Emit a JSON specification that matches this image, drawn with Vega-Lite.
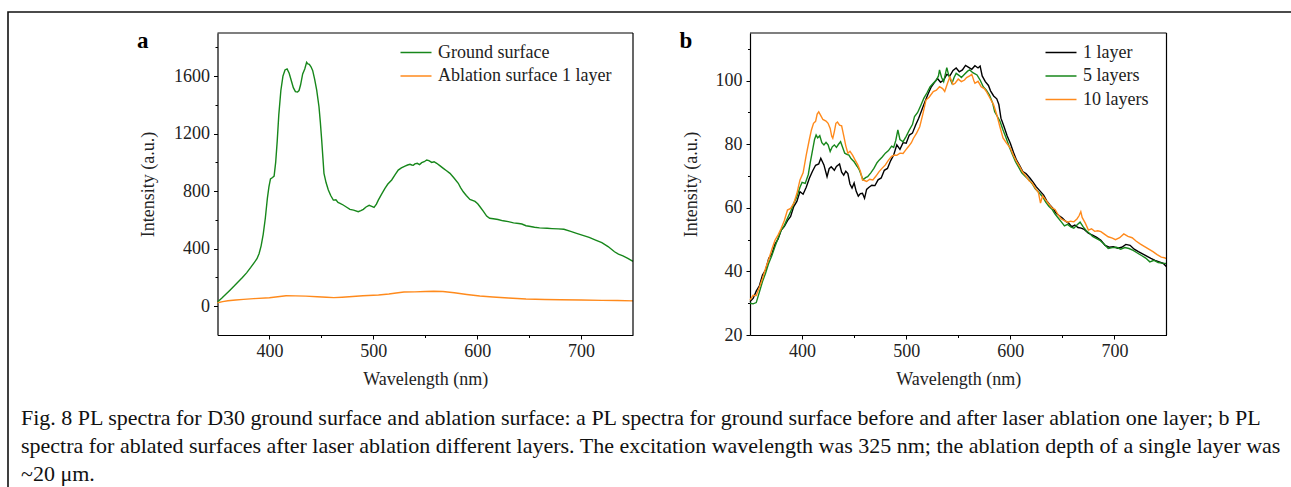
{
  "$schema": "https://vega.github.io/schema/vega-lite/v6.json",
  "width": 1284,
  "height": 476,
  "autosize": {"type": "none"},
  "padding": {"left": 8, "top": 12, "right": -1, "bottom": -1},
  "background": "white",
  "config": {
    "view": {"stroke": "#111111", "strokeWidth": 1.6},
    "font": "Liberation Serif",
    "axis": {
      "grid": false,
      "domainColor": "#000000",
      "domainWidth": 1.2,
      "tickColor": "#000000",
      "tickWidth": 1,
      "labelFont": "Liberation Serif",
      "labelFontSize": 18,
      "labelColor": "#222222",
      "titleFont": "Liberation Serif",
      "titleFontSize": 18,
      "titleFontWeight": "normal",
      "titleColor": "#222222",
      "labelOverlap": false
    },
    "legend": {
      "labelFont": "Liberation Serif",
      "labelFontSize": 18,
      "labelColor": "#222222",
      "labelLimit": 0
    }
  },
  "title": {
    "text": [
      "Fig. 8 PL spectra for D30 ground surface and ablation surface: a PL spectra for ground surface before and after laser ablation one layer; b PL",
      "spectra for ablated surfaces after laser ablation different layers. The excitation wavelength was 325 nm; the ablation depth of a single layer was",
      "~20 μm."
    ],
    "orient": "bottom",
    "anchor": "start",
    "frame": "group",
    "offset": -63,
    "dx": 13,
    "font": "Liberation Serif",
    "fontSize": 22,
    "fontWeight": "normal",
    "color": "#111111",
    "lineHeight": 28,
    "baseline": "alphabetic"
  },
  "datasets": {
    "a": [
      {"s":"Ground surface","wl":350,"v":30},{"s":"Ground surface","wl":354,"v":55},{"s":"Ground surface","wl":358,"v":83},{"s":"Ground surface","wl":362,"v":112},{"s":"Ground surface","wl":366,"v":140},{"s":"Ground surface","wl":370,"v":170},{"s":"Ground surface","wl":374,"v":200},{"s":"Ground surface","wl":378,"v":232},{"s":"Ground surface","wl":382,"v":270},{"s":"Ground surface","wl":385,"v":300},{"s":"Ground surface","wl":388,"v":330},{"s":"Ground surface","wl":390,"v":365},{"s":"Ground surface","wl":392,"v":420},{"s":"Ground surface","wl":394,"v":500},{"s":"Ground surface","wl":396,"v":610},{"s":"Ground surface","wl":398,"v":750},{"s":"Ground surface","wl":399.5,"v":830},{"s":"Ground surface","wl":401,"v":885},{"s":"Ground surface","wl":403,"v":895},{"s":"Ground surface","wl":404.5,"v":905},{"s":"Ground surface","wl":406,"v":1000},{"s":"Ground surface","wl":407.5,"v":1150},{"s":"Ground surface","wl":409,"v":1330},{"s":"Ground surface","wl":411,"v":1500},{"s":"Ground surface","wl":413,"v":1600},{"s":"Ground surface","wl":415,"v":1643},{"s":"Ground surface","wl":417,"v":1650},{"s":"Ground surface","wl":419,"v":1620},{"s":"Ground surface","wl":421,"v":1570},{"s":"Ground surface","wl":423,"v":1520},{"s":"Ground surface","wl":425,"v":1492},{"s":"Ground surface","wl":427,"v":1490},{"s":"Ground surface","wl":428.5,"v":1500},{"s":"Ground surface","wl":430,"v":1540},{"s":"Ground surface","wl":432,"v":1615},{"s":"Ground surface","wl":434,"v":1650},{"s":"Ground surface","wl":435.8,"v":1696},{"s":"Ground surface","wl":437,"v":1685},{"s":"Ground surface","wl":438.4,"v":1682},{"s":"Ground surface","wl":440,"v":1665},{"s":"Ground surface","wl":441.6,"v":1640},{"s":"Ground surface","wl":443.5,"v":1580},{"s":"Ground surface","wl":445.5,"v":1503},{"s":"Ground surface","wl":447.7,"v":1387},{"s":"Ground surface","wl":449,"v":1280},{"s":"Ground surface","wl":450.3,"v":1156},{"s":"Ground surface","wl":451.5,"v":1030},{"s":"Ground surface","wl":452.5,"v":924},{"s":"Ground surface","wl":454.5,"v":860},{"s":"Ground surface","wl":456.7,"v":808},{"s":"Ground surface","wl":459,"v":770},{"s":"Ground surface","wl":461.5,"v":738},{"s":"Ground surface","wl":464,"v":740},{"s":"Ground surface","wl":466,"v":722},{"s":"Ground surface","wl":468,"v":716},{"s":"Ground surface","wl":471,"v":704},{"s":"Ground surface","wl":474,"v":690},{"s":"Ground surface","wl":477.5,"v":674},{"s":"Ground surface","wl":481,"v":668},{"s":"Ground surface","wl":485.5,"v":657},{"s":"Ground surface","wl":488,"v":665},{"s":"Ground surface","wl":490.4,"v":674},{"s":"Ground surface","wl":493,"v":690},{"s":"Ground surface","wl":496,"v":702},{"s":"Ground surface","wl":498.5,"v":695},{"s":"Ground surface","wl":500.7,"v":688},{"s":"Ground surface","wl":503,"v":710},{"s":"Ground surface","wl":504.8,"v":738},{"s":"Ground surface","wl":508,"v":780},{"s":"Ground surface","wl":511.2,"v":820},{"s":"Ground surface","wl":514,"v":850},{"s":"Ground surface","wl":517.7,"v":878},{"s":"Ground surface","wl":521,"v":915},{"s":"Ground surface","wl":524,"v":947},{"s":"Ground surface","wl":527,"v":962},{"s":"Ground surface","wl":530.5,"v":975},{"s":"Ground surface","wl":533,"v":982},{"s":"Ground surface","wl":535.3,"v":987},{"s":"Ground surface","wl":537,"v":982},{"s":"Ground surface","wl":538.5,"v":980},{"s":"Ground surface","wl":540,"v":990},{"s":"Ground surface","wl":542.3,"v":994},{"s":"Ground surface","wl":544.5,"v":985},{"s":"Ground surface","wl":546.6,"v":998},{"s":"Ground surface","wl":549,"v":1005},{"s":"Ground surface","wl":551.4,"v":1017},{"s":"Ground surface","wl":553.5,"v":1012},{"s":"Ground surface","wl":556.2,"v":1000},{"s":"Ground surface","wl":558.5,"v":1005},{"s":"Ground surface","wl":561,"v":994},{"s":"Ground surface","wl":564,"v":978},{"s":"Ground surface","wl":567.4,"v":959},{"s":"Ground surface","wl":570.5,"v":942},{"s":"Ground surface","wl":573.8,"v":924},{"s":"Ground surface","wl":577.5,"v":893},{"s":"Ground surface","wl":581.8,"v":855},{"s":"Ground surface","wl":584,"v":825},{"s":"Ground surface","wl":586.6,"v":796},{"s":"Ground surface","wl":589.5,"v":770},{"s":"Ground surface","wl":593,"v":743},{"s":"Ground surface","wl":597.9,"v":729},{"s":"Ground surface","wl":600.5,"v":712},{"s":"Ground surface","wl":602.7,"v":692},{"s":"Ground surface","wl":606,"v":660},{"s":"Ground surface","wl":609.1,"v":627},{"s":"Ground surface","wl":612,"v":612},{"s":"Ground surface","wl":615.5,"v":608},{"s":"Ground surface","wl":620,"v":603},{"s":"Ground surface","wl":625,"v":594},{"s":"Ground surface","wl":630,"v":588},{"s":"Ground surface","wl":635,"v":580},{"s":"Ground surface","wl":640,"v":575},{"s":"Ground surface","wl":643,"v":572},{"s":"Ground surface","wl":647,"v":560},{"s":"Ground surface","wl":650,"v":556},{"s":"Ground surface","wl":655.2,"v":549},{"s":"Ground surface","wl":660,"v":545},{"s":"Ground surface","wl":667.3,"v":542},{"s":"Ground surface","wl":672,"v":540},{"s":"Ground surface","wl":678,"v":538},{"s":"Ground surface","wl":683.5,"v":535},{"s":"Ground surface","wl":690,"v":520},{"s":"Ground surface","wl":695.7,"v":507},{"s":"Ground surface","wl":701,"v":495},{"s":"Ground surface","wl":707.8,"v":479},{"s":"Ground surface","wl":714,"v":460},{"s":"Ground surface","wl":720,"v":442},{"s":"Ground surface","wl":726,"v":415},{"s":"Ground surface","wl":732.2,"v":379},{"s":"Ground surface","wl":736,"v":362},{"s":"Ground surface","wl":740.3,"v":350},{"s":"Ground surface","wl":745,"v":333},{"s":"Ground surface","wl":750,"v":312},
      {"s":"Ablation surface 1 layer","wl":350,"v":24},{"s":"Ablation surface 1 layer","wl":355,"v":32},{"s":"Ablation surface 1 layer","wl":360,"v":38},{"s":"Ablation surface 1 layer","wl":367.5,"v":43},{"s":"Ablation surface 1 layer","wl":375,"v":48},{"s":"Ablation surface 1 layer","wl":385,"v":53},{"s":"Ablation surface 1 layer","wl":400,"v":59},{"s":"Ablation surface 1 layer","wl":408,"v":66},{"s":"Ablation surface 1 layer","wl":416,"v":73},{"s":"Ablation surface 1 layer","wl":425,"v":72},{"s":"Ablation surface 1 layer","wl":435,"v":70},{"s":"Ablation surface 1 layer","wl":446,"v":66},{"s":"Ablation surface 1 layer","wl":455,"v":62},{"s":"Ablation surface 1 layer","wl":462,"v":60},{"s":"Ablation surface 1 layer","wl":470,"v":63},{"s":"Ablation surface 1 layer","wl":480,"v":68},{"s":"Ablation surface 1 layer","wl":490,"v":73},{"s":"Ablation surface 1 layer","wl":505,"v":78},{"s":"Ablation surface 1 layer","wl":515,"v":85},{"s":"Ablation surface 1 layer","wl":522,"v":92},{"s":"Ablation surface 1 layer","wl":529.5,"v":99},{"s":"Ablation surface 1 layer","wl":540,"v":100},{"s":"Ablation surface 1 layer","wl":550,"v":102},{"s":"Ablation surface 1 layer","wl":558,"v":104},{"s":"Ablation surface 1 layer","wl":567,"v":102},{"s":"Ablation surface 1 layer","wl":578,"v":94},{"s":"Ablation surface 1 layer","wl":590,"v":82},{"s":"Ablation surface 1 layer","wl":602.5,"v":71},{"s":"Ablation surface 1 layer","wl":615,"v":64},{"s":"Ablation surface 1 layer","wl":630,"v":57},{"s":"Ablation surface 1 layer","wl":647,"v":50},{"s":"Ablation surface 1 layer","wl":665,"v":47},{"s":"Ablation surface 1 layer","wl":680,"v":45},{"s":"Ablation surface 1 layer","wl":700,"v":43},{"s":"Ablation surface 1 layer","wl":720,"v":41},{"s":"Ablation surface 1 layer","wl":735,"v":40},{"s":"Ablation surface 1 layer","wl":750,"v":37}
    ],
    "b": [
      {"s":"1 layer","wl":350,"v":30.5},{"s":"1 layer","wl":353,"v":31.5},{"s":"1 layer","wl":356,"v":33.8},{"s":"1 layer","wl":359,"v":35.5},{"s":"1 layer","wl":362,"v":38.9},{"s":"1 layer","wl":365,"v":40.5},{"s":"1 layer","wl":368,"v":44.1},{"s":"1 layer","wl":371,"v":45.5},{"s":"1 layer","wl":374,"v":48.6},{"s":"1 layer","wl":377,"v":50.2},{"s":"1 layer","wl":380,"v":53},{"s":"1 layer","wl":383,"v":54.2},{"s":"1 layer","wl":386,"v":56},{"s":"1 layer","wl":389,"v":57.3},{"s":"1 layer","wl":392,"v":60.4},{"s":"1 layer","wl":395,"v":62},{"s":"1 layer","wl":398,"v":65.1},{"s":"1 layer","wl":401,"v":64.3},{"s":"1 layer","wl":404,"v":66.5},{"s":"1 layer","wl":407,"v":69.3},{"s":"1 layer","wl":410,"v":71.5},{"s":"1 layer","wl":413,"v":73.4},{"s":"1 layer","wl":416,"v":73.8},{"s":"1 layer","wl":418,"v":75.6},{"s":"1 layer","wl":421,"v":73.5},{"s":"1 layer","wl":424,"v":69.8},{"s":"1 layer","wl":426,"v":72.3},{"s":"1 layer","wl":428,"v":72.9},{"s":"1 layer","wl":431,"v":71.8},{"s":"1 layer","wl":433,"v":73},{"s":"1 layer","wl":436,"v":73.8},{"s":"1 layer","wl":438,"v":71.2},{"s":"1 layer","wl":440,"v":70.3},{"s":"1 layer","wl":442,"v":71.5},{"s":"1 layer","wl":444,"v":70.8},{"s":"1 layer","wl":446,"v":67.5},{"s":"1 layer","wl":448,"v":66.2},{"s":"1 layer","wl":450,"v":67.8},{"s":"1 layer","wl":452,"v":65.2},{"s":"1 layer","wl":454,"v":63.7},{"s":"1 layer","wl":456,"v":64.5},{"s":"1 layer","wl":458,"v":64.6},{"s":"1 layer","wl":460,"v":63},{"s":"1 layer","wl":462,"v":65.8},{"s":"1 layer","wl":464,"v":66.4},{"s":"1 layer","wl":467,"v":67.1},{"s":"1 layer","wl":470,"v":67},{"s":"1 layer","wl":473,"v":68.8},{"s":"1 layer","wl":476,"v":69.4},{"s":"1 layer","wl":479,"v":71.8},{"s":"1 layer","wl":482,"v":72.4},{"s":"1 layer","wl":485,"v":74.8},{"s":"1 layer","wl":488,"v":76.6},{"s":"1 layer","wl":491,"v":79.8},{"s":"1 layer","wl":494,"v":78.4},{"s":"1 layer","wl":497,"v":80.5},{"s":"1 layer","wl":500,"v":80.3},{"s":"1 layer","wl":503,"v":82.9},{"s":"1 layer","wl":506,"v":83.5},{"s":"1 layer","wl":509,"v":86},{"s":"1 layer","wl":512,"v":88.2},{"s":"1 layer","wl":515,"v":90.8},{"s":"1 layer","wl":518,"v":93.4},{"s":"1 layer","wl":521,"v":95.8},{"s":"1 layer","wl":524,"v":98},{"s":"1 layer","wl":527,"v":99.4},{"s":"1 layer","wl":530,"v":100.7},{"s":"1 layer","wl":533,"v":99.5},{"s":"1 layer","wl":536,"v":100.2},{"s":"1 layer","wl":539,"v":102},{"s":"1 layer","wl":542,"v":101.5},{"s":"1 layer","wl":545,"v":103.2},{"s":"1 layer","wl":548,"v":104},{"s":"1 layer","wl":551,"v":102.8},{"s":"1 layer","wl":554,"v":103.4},{"s":"1 layer","wl":557,"v":104.8},{"s":"1 layer","wl":560,"v":104.2},{"s":"1 layer","wl":563,"v":103.6},{"s":"1 layer","wl":566,"v":104.7},{"s":"1 layer","wl":569,"v":104},{"s":"1 layer","wl":571,"v":104.6},{"s":"1 layer","wl":573,"v":101.5},{"s":"1 layer","wl":576,"v":99.7},{"s":"1 layer","wl":579,"v":98.5},{"s":"1 layer","wl":581,"v":96.8},{"s":"1 layer","wl":584,"v":95.2},{"s":"1 layer","wl":587,"v":94.3},{"s":"1 layer","wl":589,"v":92.5},{"s":"1 layer","wl":591,"v":88.2},{"s":"1 layer","wl":594,"v":85.5},{"s":"1 layer","wl":597,"v":82.6},{"s":"1 layer","wl":600,"v":80.3},{"s":"1 layer","wl":603,"v":77.5},{"s":"1 layer","wl":606,"v":75},{"s":"1 layer","wl":609,"v":73.3},{"s":"1 layer","wl":612,"v":71.4},{"s":"1 layer","wl":615,"v":70.8},{"s":"1 layer","wl":619,"v":69.3},{"s":"1 layer","wl":622,"v":68},{"s":"1 layer","wl":625,"v":66.6},{"s":"1 layer","wl":628,"v":65.5},{"s":"1 layer","wl":632,"v":64},{"s":"1 layer","wl":635,"v":62.2},{"s":"1 layer","wl":638,"v":60.9},{"s":"1 layer","wl":641,"v":59.8},{"s":"1 layer","wl":644,"v":58.3},{"s":"1 layer","wl":647,"v":57.5},{"s":"1 layer","wl":650,"v":56.8},{"s":"1 layer","wl":653,"v":55.8},{"s":"1 layer","wl":656,"v":55.2},{"s":"1 layer","wl":659,"v":54.1},{"s":"1 layer","wl":662,"v":54.6},{"s":"1 layer","wl":665,"v":53.8},{"s":"1 layer","wl":668,"v":53.6},{"s":"1 layer","wl":671,"v":53.2},{"s":"1 layer","wl":675,"v":52},{"s":"1 layer","wl":679,"v":51.4},{"s":"1 layer","wl":683,"v":50.7},{"s":"1 layer","wl":687,"v":49.8},{"s":"1 layer","wl":691,"v":48.2},{"s":"1 layer","wl":695,"v":47.6},{"s":"1 layer","wl":699,"v":47.8},{"s":"1 layer","wl":703,"v":47.3},{"s":"1 layer","wl":707,"v":47.6},{"s":"1 layer","wl":711,"v":48.5},{"s":"1 layer","wl":715,"v":48.2},{"s":"1 layer","wl":719,"v":47},{"s":"1 layer","wl":723,"v":46.2},{"s":"1 layer","wl":727,"v":45.5},{"s":"1 layer","wl":731,"v":44.8},{"s":"1 layer","wl":735,"v":44.1},{"s":"1 layer","wl":739,"v":43.5},{"s":"1 layer","wl":743,"v":43},{"s":"1 layer","wl":747,"v":42.5},{"s":"1 layer","wl":750,"v":41.5},
      {"s":"5 layers","wl":350,"v":30},{"s":"5 layers","wl":353,"v":29.8},{"s":"5 layers","wl":356,"v":30.2},{"s":"5 layers","wl":359,"v":33.5},{"s":"5 layers","wl":362,"v":36.8},{"s":"5 layers","wl":365,"v":39.5},{"s":"5 layers","wl":368,"v":42.6},{"s":"5 layers","wl":371,"v":45},{"s":"5 layers","wl":374,"v":47.8},{"s":"5 layers","wl":377,"v":50.5},{"s":"5 layers","wl":380,"v":53},{"s":"5 layers","wl":383,"v":54.5},{"s":"5 layers","wl":386,"v":56.7},{"s":"5 layers","wl":389,"v":58.8},{"s":"5 layers","wl":392,"v":61.4},{"s":"5 layers","wl":395,"v":63.5},{"s":"5 layers","wl":398,"v":66.5},{"s":"5 layers","wl":400,"v":68},{"s":"5 layers","wl":403,"v":67.7},{"s":"5 layers","wl":406,"v":70.5},{"s":"5 layers","wl":408,"v":74.5},{"s":"5 layers","wl":410,"v":78},{"s":"5 layers","wl":412,"v":81.5},{"s":"5 layers","wl":413.5,"v":82.9},{"s":"5 layers","wl":415,"v":82},{"s":"5 layers","wl":417,"v":82.7},{"s":"5 layers","wl":419,"v":80.5},{"s":"5 layers","wl":421,"v":79.8},{"s":"5 layers","wl":423,"v":80.6},{"s":"5 layers","wl":425,"v":79.8},{"s":"5 layers","wl":427,"v":77.7},{"s":"5 layers","wl":429,"v":79.2},{"s":"5 layers","wl":431,"v":79.8},{"s":"5 layers","wl":433,"v":79},{"s":"5 layers","wl":435,"v":80},{"s":"5 layers","wl":437,"v":80.8},{"s":"5 layers","wl":439,"v":79},{"s":"5 layers","wl":441,"v":77.2},{"s":"5 layers","wl":443,"v":76.8},{"s":"5 layers","wl":445,"v":76.6},{"s":"5 layers","wl":447,"v":75.5},{"s":"5 layers","wl":450,"v":74.5},{"s":"5 layers","wl":453,"v":73},{"s":"5 layers","wl":455,"v":71.9},{"s":"5 layers","wl":457,"v":70.2},{"s":"5 layers","wl":458.5,"v":68.8},{"s":"5 layers","wl":461,"v":69.5},{"s":"5 layers","wl":463,"v":69.8},{"s":"5 layers","wl":466,"v":71},{"s":"5 layers","wl":469,"v":72.4},{"s":"5 layers","wl":472,"v":74.2},{"s":"5 layers","wl":474,"v":75},{"s":"5 layers","wl":477,"v":76},{"s":"5 layers","wl":480,"v":77.2},{"s":"5 layers","wl":483,"v":78},{"s":"5 layers","wl":486,"v":79.4},{"s":"5 layers","wl":488,"v":79},{"s":"5 layers","wl":490,"v":81.2},{"s":"5 layers","wl":492,"v":84.5},{"s":"5 layers","wl":494,"v":81.5},{"s":"5 layers","wl":497,"v":80.8},{"s":"5 layers","wl":500,"v":82.5},{"s":"5 layers","wl":503,"v":84.5},{"s":"5 layers","wl":506,"v":86.2},{"s":"5 layers","wl":508,"v":88.7},{"s":"5 layers","wl":511,"v":90},{"s":"5 layers","wl":514,"v":92.2},{"s":"5 layers","wl":517,"v":94.5},{"s":"5 layers","wl":520,"v":96.2},{"s":"5 layers","wl":523,"v":98.1},{"s":"5 layers","wl":526,"v":99.2},{"s":"5 layers","wl":529,"v":100.2},{"s":"5 layers","wl":531,"v":101.5},{"s":"5 layers","wl":532,"v":103.4},{"s":"5 layers","wl":534,"v":101},{"s":"5 layers","wl":536,"v":99.7},{"s":"5 layers","wl":539,"v":104.1},{"s":"5 layers","wl":541,"v":101.5},{"s":"5 layers","wl":544,"v":99.2},{"s":"5 layers","wl":546,"v":101},{"s":"5 layers","wl":548,"v":102.3},{"s":"5 layers","wl":551,"v":101.6},{"s":"5 layers","wl":553,"v":101},{"s":"5 layers","wl":556,"v":102},{"s":"5 layers","wl":559,"v":103},{"s":"5 layers","wl":561,"v":103.4},{"s":"5 layers","wl":564,"v":102.5},{"s":"5 layers","wl":568,"v":101.8},{"s":"5 layers","wl":571,"v":100.2},{"s":"5 layers","wl":574,"v":98.1},{"s":"5 layers","wl":577,"v":97},{"s":"5 layers","wl":580,"v":95.5},{"s":"5 layers","wl":583,"v":93},{"s":"5 layers","wl":585,"v":90.2},{"s":"5 layers","wl":588,"v":88.5},{"s":"5 layers","wl":590,"v":87.3},{"s":"5 layers","wl":593,"v":84.5},{"s":"5 layers","wl":596,"v":82},{"s":"5 layers","wl":599,"v":79.2},{"s":"5 layers","wl":602,"v":76.8},{"s":"5 layers","wl":605,"v":74.5},{"s":"5 layers","wl":608,"v":72.8},{"s":"5 layers","wl":611,"v":71},{"s":"5 layers","wl":614,"v":70},{"s":"5 layers","wl":618,"v":68.8},{"s":"5 layers","wl":621,"v":67.6},{"s":"5 layers","wl":624,"v":66},{"s":"5 layers","wl":627,"v":65},{"s":"5 layers","wl":631,"v":63.5},{"s":"5 layers","wl":634,"v":61.8},{"s":"5 layers","wl":637,"v":60.5},{"s":"5 layers","wl":640,"v":59.6},{"s":"5 layers","wl":643,"v":58},{"s":"5 layers","wl":646,"v":56.8},{"s":"5 layers","wl":649,"v":55.6},{"s":"5 layers","wl":652,"v":54.3},{"s":"5 layers","wl":655,"v":54.8},{"s":"5 layers","wl":658,"v":54},{"s":"5 layers","wl":661,"v":53.6},{"s":"5 layers","wl":664,"v":54.6},{"s":"5 layers","wl":667,"v":55.5},{"s":"5 layers","wl":670,"v":54},{"s":"5 layers","wl":673,"v":52.8},{"s":"5 layers","wl":676,"v":52},{"s":"5 layers","wl":679,"v":51},{"s":"5 layers","wl":682,"v":50.5},{"s":"5 layers","wl":686,"v":49.8},{"s":"5 layers","wl":690,"v":48.6},{"s":"5 layers","wl":694,"v":47.2},{"s":"5 layers","wl":698,"v":47.5},{"s":"5 layers","wl":702,"v":47.6},{"s":"5 layers","wl":706,"v":47},{"s":"5 layers","wl":710,"v":47.5},{"s":"5 layers","wl":714,"v":47.2},{"s":"5 layers","wl":718,"v":46.6},{"s":"5 layers","wl":722,"v":45.8},{"s":"5 layers","wl":726,"v":45},{"s":"5 layers","wl":730,"v":44.2},{"s":"5 layers","wl":734,"v":43},{"s":"5 layers","wl":738,"v":43.5},{"s":"5 layers","wl":742,"v":42.8},{"s":"5 layers","wl":746,"v":42.6},{"s":"5 layers","wl":750,"v":42.5},
      {"s":"10 layers","wl":350,"v":31},{"s":"10 layers","wl":353,"v":32.5},{"s":"10 layers","wl":356,"v":32.4},{"s":"10 layers","wl":359,"v":35},{"s":"10 layers","wl":362,"v":37.8},{"s":"10 layers","wl":365,"v":41},{"s":"10 layers","wl":368,"v":43.8},{"s":"10 layers","wl":371,"v":47},{"s":"10 layers","wl":374,"v":49.8},{"s":"10 layers","wl":377,"v":51.5},{"s":"10 layers","wl":380,"v":53.6},{"s":"10 layers","wl":383,"v":56},{"s":"10 layers","wl":386,"v":59.3},{"s":"10 layers","wl":389,"v":59.8},{"s":"10 layers","wl":392,"v":61.4},{"s":"10 layers","wl":395,"v":64.5},{"s":"10 layers","wl":398,"v":68.8},{"s":"10 layers","wl":401,"v":71},{"s":"10 layers","wl":404,"v":76.6},{"s":"10 layers","wl":407,"v":81.5},{"s":"10 layers","wl":409,"v":84.5},{"s":"10 layers","wl":411,"v":86.6},{"s":"10 layers","wl":413,"v":87.2},{"s":"10 layers","wl":414.5,"v":89.5},{"s":"10 layers","wl":416,"v":90.2},{"s":"10 layers","wl":418,"v":89},{"s":"10 layers","wl":420,"v":87.8},{"s":"10 layers","wl":423,"v":87.3},{"s":"10 layers","wl":425,"v":86.6},{"s":"10 layers","wl":427,"v":85},{"s":"10 layers","wl":428.5,"v":82.5},{"s":"10 layers","wl":429.5,"v":81.9},{"s":"10 layers","wl":431,"v":84},{"s":"10 layers","wl":432.5,"v":86.6},{"s":"10 layers","wl":434,"v":87},{"s":"10 layers","wl":436,"v":86},{"s":"10 layers","wl":438,"v":85.8},{"s":"10 layers","wl":440,"v":82.7},{"s":"10 layers","wl":442,"v":79.5},{"s":"10 layers","wl":444,"v":77.2},{"s":"10 layers","wl":446,"v":77.8},{"s":"10 layers","wl":448.5,"v":76.6},{"s":"10 layers","wl":451,"v":75},{"s":"10 layers","wl":453.5,"v":73.5},{"s":"10 layers","wl":456,"v":71.5},{"s":"10 layers","wl":458,"v":68.8},{"s":"10 layers","wl":460,"v":68.6},{"s":"10 layers","wl":462,"v":68.3},{"s":"10 layers","wl":465,"v":69},{"s":"10 layers","wl":468,"v":68.8},{"s":"10 layers","wl":471,"v":70},{"s":"10 layers","wl":474,"v":71.4},{"s":"10 layers","wl":477,"v":72.5},{"s":"10 layers","wl":480,"v":73.5},{"s":"10 layers","wl":483,"v":75},{"s":"10 layers","wl":486,"v":76.2},{"s":"10 layers","wl":489,"v":76.6},{"s":"10 layers","wl":491,"v":76.5},{"s":"10 layers","wl":494,"v":77.2},{"s":"10 layers","wl":497,"v":77.1},{"s":"10 layers","wl":500,"v":78.4},{"s":"10 layers","wl":502,"v":79.2},{"s":"10 layers","wl":505,"v":80.5},{"s":"10 layers","wl":507,"v":81.9},{"s":"10 layers","wl":510,"v":83.5},{"s":"10 layers","wl":513,"v":85.5},{"s":"10 layers","wl":516,"v":89.5},{"s":"10 layers","wl":519,"v":93.9},{"s":"10 layers","wl":522,"v":94.8},{"s":"10 layers","wl":526,"v":96.6},{"s":"10 layers","wl":529,"v":97},{"s":"10 layers","wl":532,"v":98.1},{"s":"10 layers","wl":535,"v":97.5},{"s":"10 layers","wl":537,"v":96.6},{"s":"10 layers","wl":540,"v":99.5},{"s":"10 layers","wl":542,"v":101.2},{"s":"10 layers","wl":545,"v":98.8},{"s":"10 layers","wl":547,"v":99.2},{"s":"10 layers","wl":550,"v":100.5},{"s":"10 layers","wl":553,"v":99.7},{"s":"10 layers","wl":556,"v":100.2},{"s":"10 layers","wl":558,"v":101},{"s":"10 layers","wl":561,"v":101.5},{"s":"10 layers","wl":563,"v":102},{"s":"10 layers","wl":565,"v":100},{"s":"10 layers","wl":566,"v":99.2},{"s":"10 layers","wl":569,"v":99.8},{"s":"10 layers","wl":572,"v":98.1},{"s":"10 layers","wl":575,"v":97.5},{"s":"10 layers","wl":577,"v":96.6},{"s":"10 layers","wl":580,"v":94.8},{"s":"10 layers","wl":584,"v":92.4},{"s":"10 layers","wl":587,"v":89.3},{"s":"10 layers","wl":590,"v":85.5},{"s":"10 layers","wl":593,"v":82},{"s":"10 layers","wl":596,"v":80.5},{"s":"10 layers","wl":600,"v":78.8},{"s":"10 layers","wl":603,"v":76.5},{"s":"10 layers","wl":606,"v":74.6},{"s":"10 layers","wl":609,"v":73},{"s":"10 layers","wl":612,"v":71.2},{"s":"10 layers","wl":615,"v":70},{"s":"10 layers","wl":618,"v":68.5},{"s":"10 layers","wl":621,"v":67.8},{"s":"10 layers","wl":624,"v":66.2},{"s":"10 layers","wl":627,"v":64.8},{"s":"10 layers","wl":629,"v":61.5},{"s":"10 layers","wl":631,"v":63.8},{"s":"10 layers","wl":634,"v":62.5},{"s":"10 layers","wl":637,"v":61.2},{"s":"10 layers","wl":640,"v":60},{"s":"10 layers","wl":643,"v":59.5},{"s":"10 layers","wl":646,"v":57.8},{"s":"10 layers","wl":649,"v":56.5},{"s":"10 layers","wl":652,"v":56},{"s":"10 layers","wl":655,"v":55.5},{"s":"10 layers","wl":658,"v":55.8},{"s":"10 layers","wl":661,"v":55.6},{"s":"10 layers","wl":664,"v":56.5},{"s":"10 layers","wl":666,"v":57.5},{"s":"10 layers","wl":667.7,"v":58.8},{"s":"10 layers","wl":669,"v":57},{"s":"10 layers","wl":672,"v":55.2},{"s":"10 layers","wl":675,"v":53},{"s":"10 layers","wl":678,"v":53.4},{"s":"10 layers","wl":681,"v":52.6},{"s":"10 layers","wl":684,"v":52.8},{"s":"10 layers","wl":687,"v":52.5},{"s":"10 layers","wl":690,"v":51.8},{"s":"10 layers","wl":694,"v":50.9},{"s":"10 layers","wl":698,"v":50.5},{"s":"10 layers","wl":701,"v":50},{"s":"10 layers","wl":705,"v":50.6},{"s":"10 layers","wl":709,"v":51.8},{"s":"10 layers","wl":713,"v":51},{"s":"10 layers","wl":717,"v":50.6},{"s":"10 layers","wl":721,"v":49.5},{"s":"10 layers","wl":725,"v":48.6},{"s":"10 layers","wl":729,"v":47.8},{"s":"10 layers","wl":733,"v":47},{"s":"10 layers","wl":737,"v":46.2},{"s":"10 layers","wl":741,"v":45.3},{"s":"10 layers","wl":745,"v":44.5},{"s":"10 layers","wl":748,"v":44.3},{"s":"10 layers","wl":750,"v":44}
    ]
  },
  "layer": [
    {
      "layer": [
        {
          "data": {"name": "a"},
          "mark": {"type": "line", "strokeWidth": 1.4},
          "encoding": {
            "x": {
              "field": "wl", "type": "quantitative",
              "scale": {"domain": [350, 750], "range": [209.5, 625], "nice": false, "zero": false},
              "axis": {
                "orient": "bottom", "offset": -153, "title": "Wavelength (nm)",
                "values": [400, 450, 500, 550, 600, 650, 700],
                "labelExpr": "datum.value % 100 === 0 ? datum.label : ''",
                "tickSize": {"condition": {"test": "datum.value % 100 === 0", "value": 4}, "value": 2.5},
                "format": "d", "labelPadding": 3, "titlePadding": 10
              }
            },
            "y": {
              "field": "v", "type": "quantitative",
              "scale": {"domain": [-200, 1900], "range": [323, 21], "nice": false, "zero": false},
              "axis": {
                "orient": "left", "offset": -209.5, "title": "Intensity (a.u.)",
                "values": [0, 200, 400, 600, 800, 1000, 1200, 1400, 1600, 1800],
                "labelExpr": "datum.value % 400 === 0 ? datum.label : ''",
                "tickSize": {"condition": {"test": "datum.value % 400 === 0", "value": 4}, "value": 2.5},
                "format": "d", "labelPadding": 4, "titlePadding": 16
              }
            },
            "color": {
              "field": "s", "type": "nominal",
              "scale": {"domain": ["Ground surface", "Ablation surface 1 layer"], "range": ["#17871b", "#ff8a1c"]},
              "legend": {
                "orient": "none", "legendX": 397, "legendY": 29.5, "title": null,
                "symbolType": "M-1.55,0H1.55", "symbolSize": 400, "symbolStrokeWidth": 1.5,
                "rowPadding": 3.5, "labelOffset": 11, "labelLimit": 0
              }
            }
          }
        },
        {
          "data": {"values": [{}]},
          "mark": {"type": "rule", "color": "#000000", "strokeWidth": 1.2},
          "encoding": {"x": {"datum": 350}, "x2": {"datum": 750}, "y": {"datum": 1900}}
        },
        {
          "data": {"values": [{}]},
          "mark": {"type": "rule", "color": "#000000", "strokeWidth": 1.2},
          "encoding": {"x": {"datum": 750}, "y": {"datum": -200}, "y2": {"datum": 1900}}
        },
        {
          "data": {"values": [{"t": "a"}]},
          "mark": {"type": "text", "font": "Liberation Serif", "fontSize": 23, "fontWeight": "bold", "align": "center", "baseline": "alphabetic", "color": "#000000"},
          "encoding": {"x": {"datum": 278}, "y": {"datum": 1796}, "text": {"field": "t"}}
        }
      ]
    },
    {
      "layer": [
        {
          "data": {"name": "b"},
          "mark": {"type": "line", "strokeWidth": 1.4},
          "encoding": {
            "x": {
              "field": "wl", "type": "quantitative",
              "scale": {"domain": [350, 750], "range": [742, 1158.5], "nice": false, "zero": false},
              "axis": {
                "orient": "bottom", "offset": -153, "title": "Wavelength (nm)",
                "values": [400, 450, 500, 550, 600, 650, 700],
                "labelExpr": "datum.value % 100 === 0 ? datum.label : ''",
                "tickSize": {"condition": {"test": "datum.value % 100 === 0", "value": 4}, "value": 2.5},
                "format": "d", "labelPadding": 3, "titlePadding": 10
              }
            },
            "y": {
              "field": "v", "type": "quantitative",
              "scale": {"domain": [20, 115], "range": [323, 21], "nice": false, "zero": false},
              "axis": {
                "orient": "left", "offset": -742, "title": "Intensity (a.u.)",
                "values": [20, 30, 40, 50, 60, 70, 80, 90, 100, 110],
                "labelExpr": "datum.value % 20 === 0 ? datum.label : ''",
                "tickSize": {"condition": {"test": "datum.value % 20 === 0", "value": 4}, "value": 2.5},
                "format": "d", "labelPadding": 4, "titlePadding": 15
              }
            },
            "color": {
              "field": "s", "type": "nominal",
              "scale": {"domain": ["1 layer", "5 layers", "10 layers"], "range": ["#000000", "#17871b", "#ff8a1c"]},
              "legend": {
                "orient": "none", "legendX": 1042, "legendY": 29.5, "title": null,
                "symbolType": "M-1.55,0H1.55", "symbolSize": 400, "symbolStrokeWidth": 1.5,
                "rowPadding": 3.5, "labelOffset": 11, "labelLimit": 0
              }
            }
          }
        },
        {
          "data": {"values": [{}]},
          "mark": {"type": "rule", "color": "#000000", "strokeWidth": 1.2},
          "encoding": {"x": {"datum": 350}, "x2": {"datum": 750}, "y": {"datum": 115}}
        },
        {
          "data": {"values": [{}]},
          "mark": {"type": "rule", "color": "#000000", "strokeWidth": 1.2},
          "encoding": {"x": {"datum": 750}, "y": {"datum": 20}, "y2": {"datum": 115}}
        },
        {
          "data": {"values": [{"t": "b"}]},
          "mark": {"type": "text", "font": "Liberation Serif", "fontSize": 23, "fontWeight": "bold", "align": "center", "baseline": "alphabetic", "color": "#000000"},
          "encoding": {"x": {"datum": 288.5}, "y": {"datum": 110.2}, "text": {"field": "t"}}
        }
      ]
    }
  ],
  "resolve": {
    "scale": {"x": "independent", "y": "independent", "color": "independent"},
    "axis": {"x": "independent", "y": "independent"},
    "legend": {"color": "independent"}
  }
}
